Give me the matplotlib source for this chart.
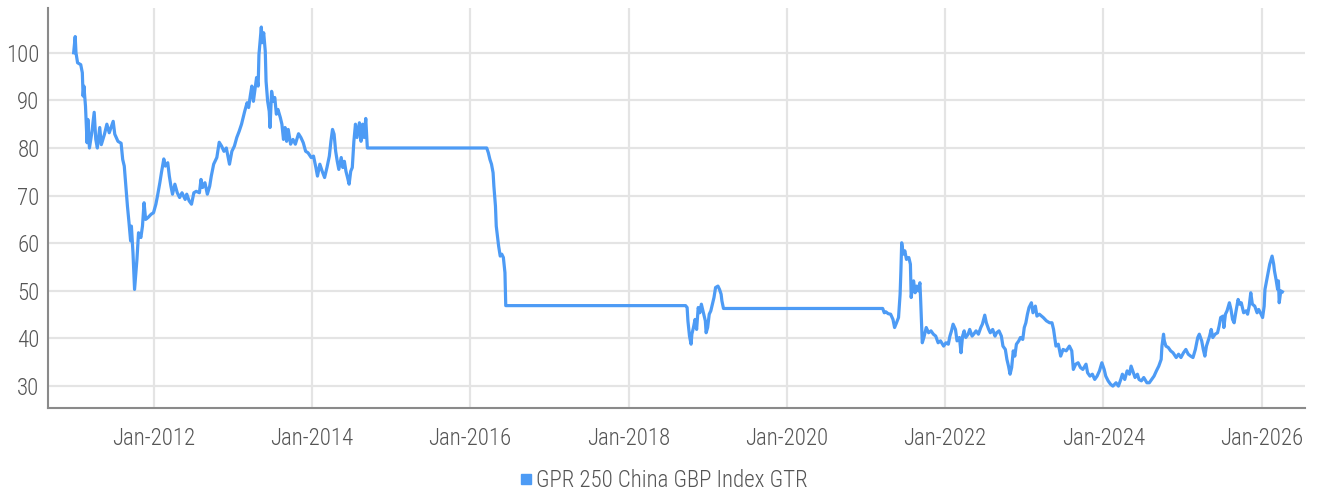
import pandas as pd
import matplotlib
matplotlib.use("Agg")
import matplotlib.pyplot as plt
import matplotlib.dates as mdates
from matplotlib import font_manager
from matplotlib.lines import Line2D

# GPR 250 China GBP Index GTR (decimal year, index level)
years = [
    2010.99, 2011.01, 2011.02, 2011.04, 2011.08, 2011.10, 2011.11, 2011.12, 2011.14, 2011.16,
    2011.17, 2011.19, 2011.22, 2011.25, 2011.27, 2011.29, 2011.32, 2011.34, 2011.38, 2011.41,
    2011.44, 2011.49, 2011.51, 2011.55, 2011.59, 2011.61, 2011.63, 2011.65, 2011.67, 2011.69,
    2011.71, 2011.72, 2011.74, 2011.76, 2011.79, 2011.81, 2011.84, 2011.86, 2011.88, 2011.90,
    2011.93, 2011.97, 2012.00, 2012.03, 2012.05, 2012.08, 2012.10, 2012.13, 2012.15, 2012.18,
    2012.20, 2012.22, 2012.24, 2012.27, 2012.30, 2012.33, 2012.36, 2012.40, 2012.42, 2012.45,
    2012.48, 2012.51, 2012.54, 2012.58, 2012.60, 2012.62, 2012.65, 2012.68, 2012.71, 2012.73,
    2012.76, 2012.80, 2012.83, 2012.86, 2012.89, 2012.92, 2012.96, 2012.99, 2013.02, 2013.05,
    2013.08, 2013.11, 2013.13, 2013.15, 2013.18, 2013.20, 2013.22, 2013.24, 2013.26, 2013.28,
    2013.30, 2013.32, 2013.33, 2013.36, 2013.37, 2013.39, 2013.41, 2013.42, 2013.44, 2013.46,
    2013.47, 2013.49, 2013.51, 2013.53, 2013.55, 2013.57, 2013.60, 2013.62, 2013.64, 2013.66,
    2013.68, 2013.70, 2013.73, 2013.76, 2013.79, 2013.83, 2013.86, 2013.89, 2013.92, 2013.95,
    2013.99, 2014.02, 2014.05, 2014.07, 2014.10, 2014.13, 2014.16, 2014.19, 2014.22, 2014.24,
    2014.26, 2014.28, 2014.30, 2014.32, 2014.34, 2014.37, 2014.39, 2014.41, 2014.43, 2014.45,
    2014.47, 2014.49, 2014.51, 2014.53, 2014.55, 2014.57, 2014.60, 2014.62, 2014.64, 2014.66,
    2014.68, 2014.70,
    2016.21, 2016.23, 2016.25, 2016.27, 2016.29, 2016.30, 2016.32, 2016.33, 2016.35, 2016.36,
    2016.38, 2016.40, 2016.42, 2016.44, 2016.45,
    2018.72, 2018.74, 2018.75, 2018.77, 2018.79, 2018.80, 2018.82, 2018.84, 2018.86, 2018.88,
    2018.90, 2018.92, 2018.94, 2018.97, 2018.98, 2019.00, 2019.02, 2019.04, 2019.06, 2019.08,
    2019.10, 2019.13, 2019.15, 2019.17, 2019.18, 2019.20,
    2021.21, 2021.23, 2021.25, 2021.28, 2021.31, 2021.34, 2021.36, 2021.38, 2021.41, 2021.43,
    2021.44, 2021.45, 2021.47, 2021.49, 2021.51, 2021.54, 2021.56, 2021.57, 2021.58, 2021.60,
    2021.62, 2021.64, 2021.66, 2021.68, 2021.69, 2021.71, 2021.73, 2021.76, 2021.79, 2021.82,
    2021.85, 2021.88, 2021.91, 2021.94, 2021.98, 2022.01, 2022.04, 2022.06, 2022.08, 2022.10,
    2022.13, 2022.15, 2022.18, 2022.20, 2022.22, 2022.24, 2022.26, 2022.29, 2022.31, 2022.34,
    2022.36, 2022.39, 2022.42, 2022.45, 2022.47, 2022.50, 2022.52, 2022.55, 2022.57, 2022.60,
    2022.63, 2022.65, 2022.68, 2022.71, 2022.73, 2022.76, 2022.78, 2022.80, 2022.82, 2022.84,
    2022.86, 2022.88, 2022.90, 2022.93, 2022.95, 2022.98, 2023.00, 2023.02, 2023.04, 2023.06,
    2023.09, 2023.11, 2023.14, 2023.16, 2023.19, 2023.24, 2023.28, 2023.32, 2023.35, 2023.37,
    2023.40, 2023.43, 2023.46, 2023.49, 2023.53, 2023.57, 2023.60, 2023.62, 2023.65, 2023.68,
    2023.71, 2023.74, 2023.78, 2023.80, 2023.83, 2023.86, 2023.89, 2023.92, 2023.95, 2023.98,
    2024.01, 2024.03, 2024.06, 2024.09, 2024.12, 2024.16, 2024.19, 2024.22, 2024.24, 2024.27,
    2024.30, 2024.33, 2024.35, 2024.38, 2024.40, 2024.43, 2024.45, 2024.48, 2024.51, 2024.55,
    2024.58, 2024.61, 2024.64, 2024.67, 2024.70, 2024.73, 2024.74, 2024.76, 2024.77, 2024.79,
    2024.82, 2024.85, 2024.88, 2024.92, 2024.95, 2024.98, 2025.01, 2025.04, 2025.07, 2025.10,
    2025.13, 2025.16, 2025.19, 2025.21, 2025.24, 2025.26, 2025.28, 2025.30, 2025.34, 2025.36,
    2025.38, 2025.41, 2025.44, 2025.46, 2025.48, 2025.51, 2025.52, 2025.54, 2025.56, 2025.59,
    2025.61, 2025.63, 2025.65, 2025.67, 2025.70, 2025.72, 2025.74, 2025.77, 2025.80, 2025.82,
    2025.84, 2025.86, 2025.88, 2025.91, 2025.94, 2025.96, 2025.99, 2026.01, 2026.03, 2026.04,
    2026.06, 2026.08, 2026.10, 2026.13, 2026.15, 2026.16, 2026.18, 2026.20, 2026.21, 2026.22,
    2026.24, 2026.26,
]
values = [
    100.0, 103.4, 100.0, 97.9, 97.5, 95.8, 90.9, 93.0, 88.8, 81.1,
    86.0, 80.0, 83.2, 87.5, 81.8, 80.0, 84.3, 80.7, 82.9, 85.0,
    83.2, 85.6, 82.9, 81.4, 81.0, 77.6, 76.2, 72.0, 67.8, 64.3,
    60.5, 63.6, 58.0, 50.3, 56.6, 62.2, 61.2, 63.6, 68.5, 65.0,
    65.4, 66.1, 66.4, 68.2, 69.9, 72.7, 74.8, 77.7, 76.2, 76.9,
    74.1, 72.0, 70.3, 72.4, 70.6, 69.6, 70.6, 69.2, 70.3, 68.9,
    68.2, 70.6, 70.9, 70.6, 73.4, 71.7, 72.7, 70.3, 72.0, 74.1,
    76.6, 78.0, 81.2, 80.4, 79.3, 80.0, 76.6, 79.3, 80.4, 82.2,
    83.5, 85.0, 86.4, 87.7, 89.5, 88.5, 90.9, 93.0, 89.8, 92.3,
    94.8, 93.0, 99.6, 105.4, 102.1, 104.2, 100.3, 94.0, 89.8, 87.7,
    84.3, 91.9, 89.8, 90.6, 87.1, 88.1, 86.4, 85.0, 81.8, 84.3,
    81.4, 83.9, 80.8, 81.8, 80.8, 83.0, 82.2, 81.1, 79.3, 79.0,
    78.0, 78.3, 75.9, 74.1, 76.6, 75.1, 73.8, 75.9, 78.3, 81.4,
    83.9, 82.9, 79.3, 77.2, 75.5, 78.0, 75.9, 77.2, 75.1, 73.8,
    72.4, 75.1, 75.9, 81.4, 85.0, 82.2, 85.3, 81.4, 85.0, 82.2,
    86.2, 80.0,
    80.0, 79.0, 77.6, 76.6, 74.8, 72.0, 67.8, 63.6, 60.8, 59.4,
    57.3, 57.7, 57.0, 53.8, 46.9,
    46.9, 46.5, 43.7, 40.5, 38.8, 40.9, 42.3, 44.0, 41.9, 46.5,
    45.4, 47.2, 45.8, 43.7, 41.2, 42.3, 45.1, 45.8, 47.2, 48.6,
    50.7, 51.0, 50.3, 49.3, 47.9, 46.3,
    46.3, 45.4, 45.6, 45.2, 45.1, 44.0, 42.3, 43.1, 44.4, 49.3,
    54.2, 60.1, 57.7, 58.4, 56.6, 57.0, 55.6, 48.6, 50.0, 52.1,
    49.6, 51.0, 50.0, 51.7, 47.9, 39.1, 40.2, 42.3, 41.2, 41.6,
    40.9, 40.5, 39.1, 39.5, 38.4, 39.1, 38.8, 40.5, 41.6, 43.0,
    41.9, 39.5, 40.2, 37.0, 40.5, 41.6, 40.2, 40.9, 41.9, 40.5,
    40.9, 41.6, 40.9, 42.3, 43.0, 44.9, 43.3, 41.9, 41.2, 41.9,
    40.5, 41.2, 41.6, 40.5, 38.4, 37.7, 35.6, 34.2, 32.5, 33.9,
    37.4, 36.3, 38.8, 39.5, 40.2, 39.8, 42.3, 43.3, 45.1, 46.5,
    47.5, 45.4, 46.8, 44.7, 45.1, 44.4, 43.7, 43.3, 43.3, 41.9,
    38.4, 38.8, 36.3, 37.7, 37.4, 38.4, 37.4, 33.5, 34.6, 34.9,
    33.9, 33.5, 34.6, 32.8, 32.1, 32.5, 31.4, 32.1, 33.2, 34.9,
    33.5, 32.1, 31.1, 30.4, 30.0, 30.7, 30.0, 31.4, 32.5, 31.4,
    33.2, 32.5, 34.2, 32.8, 31.8, 32.5, 31.4, 31.1, 31.8, 30.7,
    30.7, 31.4, 32.1, 33.2, 34.2, 35.6, 38.4, 40.9, 39.5, 38.4,
    38.1, 37.4, 37.0, 36.0, 36.7, 36.0, 37.0, 37.7, 36.7, 36.3,
    36.0, 37.7, 40.2, 40.9, 39.5, 37.7, 36.3, 38.4, 40.5, 41.9,
    40.2, 40.9, 41.2, 42.6, 44.4, 44.7, 42.3, 45.1, 45.8, 47.5,
    46.1, 44.0, 43.3, 45.4, 48.2, 47.2, 47.5, 45.4, 45.8, 45.1,
    46.8, 49.6, 47.2, 46.8, 45.4, 46.1, 45.1, 44.4, 46.8, 50.3,
    52.1, 53.8, 55.6, 57.3, 55.6, 54.2, 52.4, 50.3, 52.1, 47.5,
    50.0, 49.8,
]
y_ticks = [30, 40, 50, 60, 70, 80, 90, 100]
x_tick_years = [2012, 2014, 2016, 2018, 2020, 2022, 2024, 2026]
series_name = "GPR 250 China GBP Index GTR"


def to_date(y):
    base = pd.Timestamp(year=int(y), month=1, day=1)
    return base + pd.Timedelta(days=(y - int(y)) * 365.25)


dates = [to_date(y) for y in years]

installed = {f.name for f in font_manager.fontManager.ttflist}
families = [f for f in ["Liberation Sans Narrow", "Roboto Condensed", "Roboto"] if f in installed]
plt.rcParams["font.family"] = families + ["DejaVu Sans"]
plt.rcParams["font.weight"] = "light"

blue = "#4d9bf5"
grid_c = "#e4e4e4"
txt_c = "#555555"

fig = plt.figure(figsize=(13.17, 4.93), dpi=100)
ax = fig.add_axes([0.0364, 0.1724, 0.9545, 0.8114])

ax.plot(dates, values, color=blue, lw=2.3, solid_joinstyle="round")

ax.set_ylim(25.4, 109.4)
ax.set_xlim(to_date(2010.665), to_date(2026.546))
ax.set_yticks(y_ticks)
ax.set_xticks([pd.Timestamp(year=y, month=1, day=1) for y in x_tick_years])
ax.xaxis.set_major_formatter(mdates.DateFormatter("%b-%Y"))

ax.grid(True, color=grid_c, lw=1.6)
ax.set_axisbelow(True)
for s in ["top", "right"]:
    ax.spines[s].set_visible(False)
for s in ["left", "bottom"]:
    ax.spines[s].set_color("#8a8a8a")
    ax.spines[s].set_linewidth(1.5)
ax.tick_params(length=0, labelsize=16.5, labelcolor=txt_c)
ax.tick_params(axis="y", pad=6)
ax.tick_params(axis="x", pad=14)

handle = Line2D([], [], marker="s", ls="", color=blue, markersize=6.5)
fig.legend([handle], [series_name], loc="center", bbox_to_anchor=(0.503, 0.026),
           frameon=False, fontsize=16.5, labelcolor=txt_c, handletextpad=0.05,
           handlelength=0.8)

fig.savefig("out.png", dpi=100)
